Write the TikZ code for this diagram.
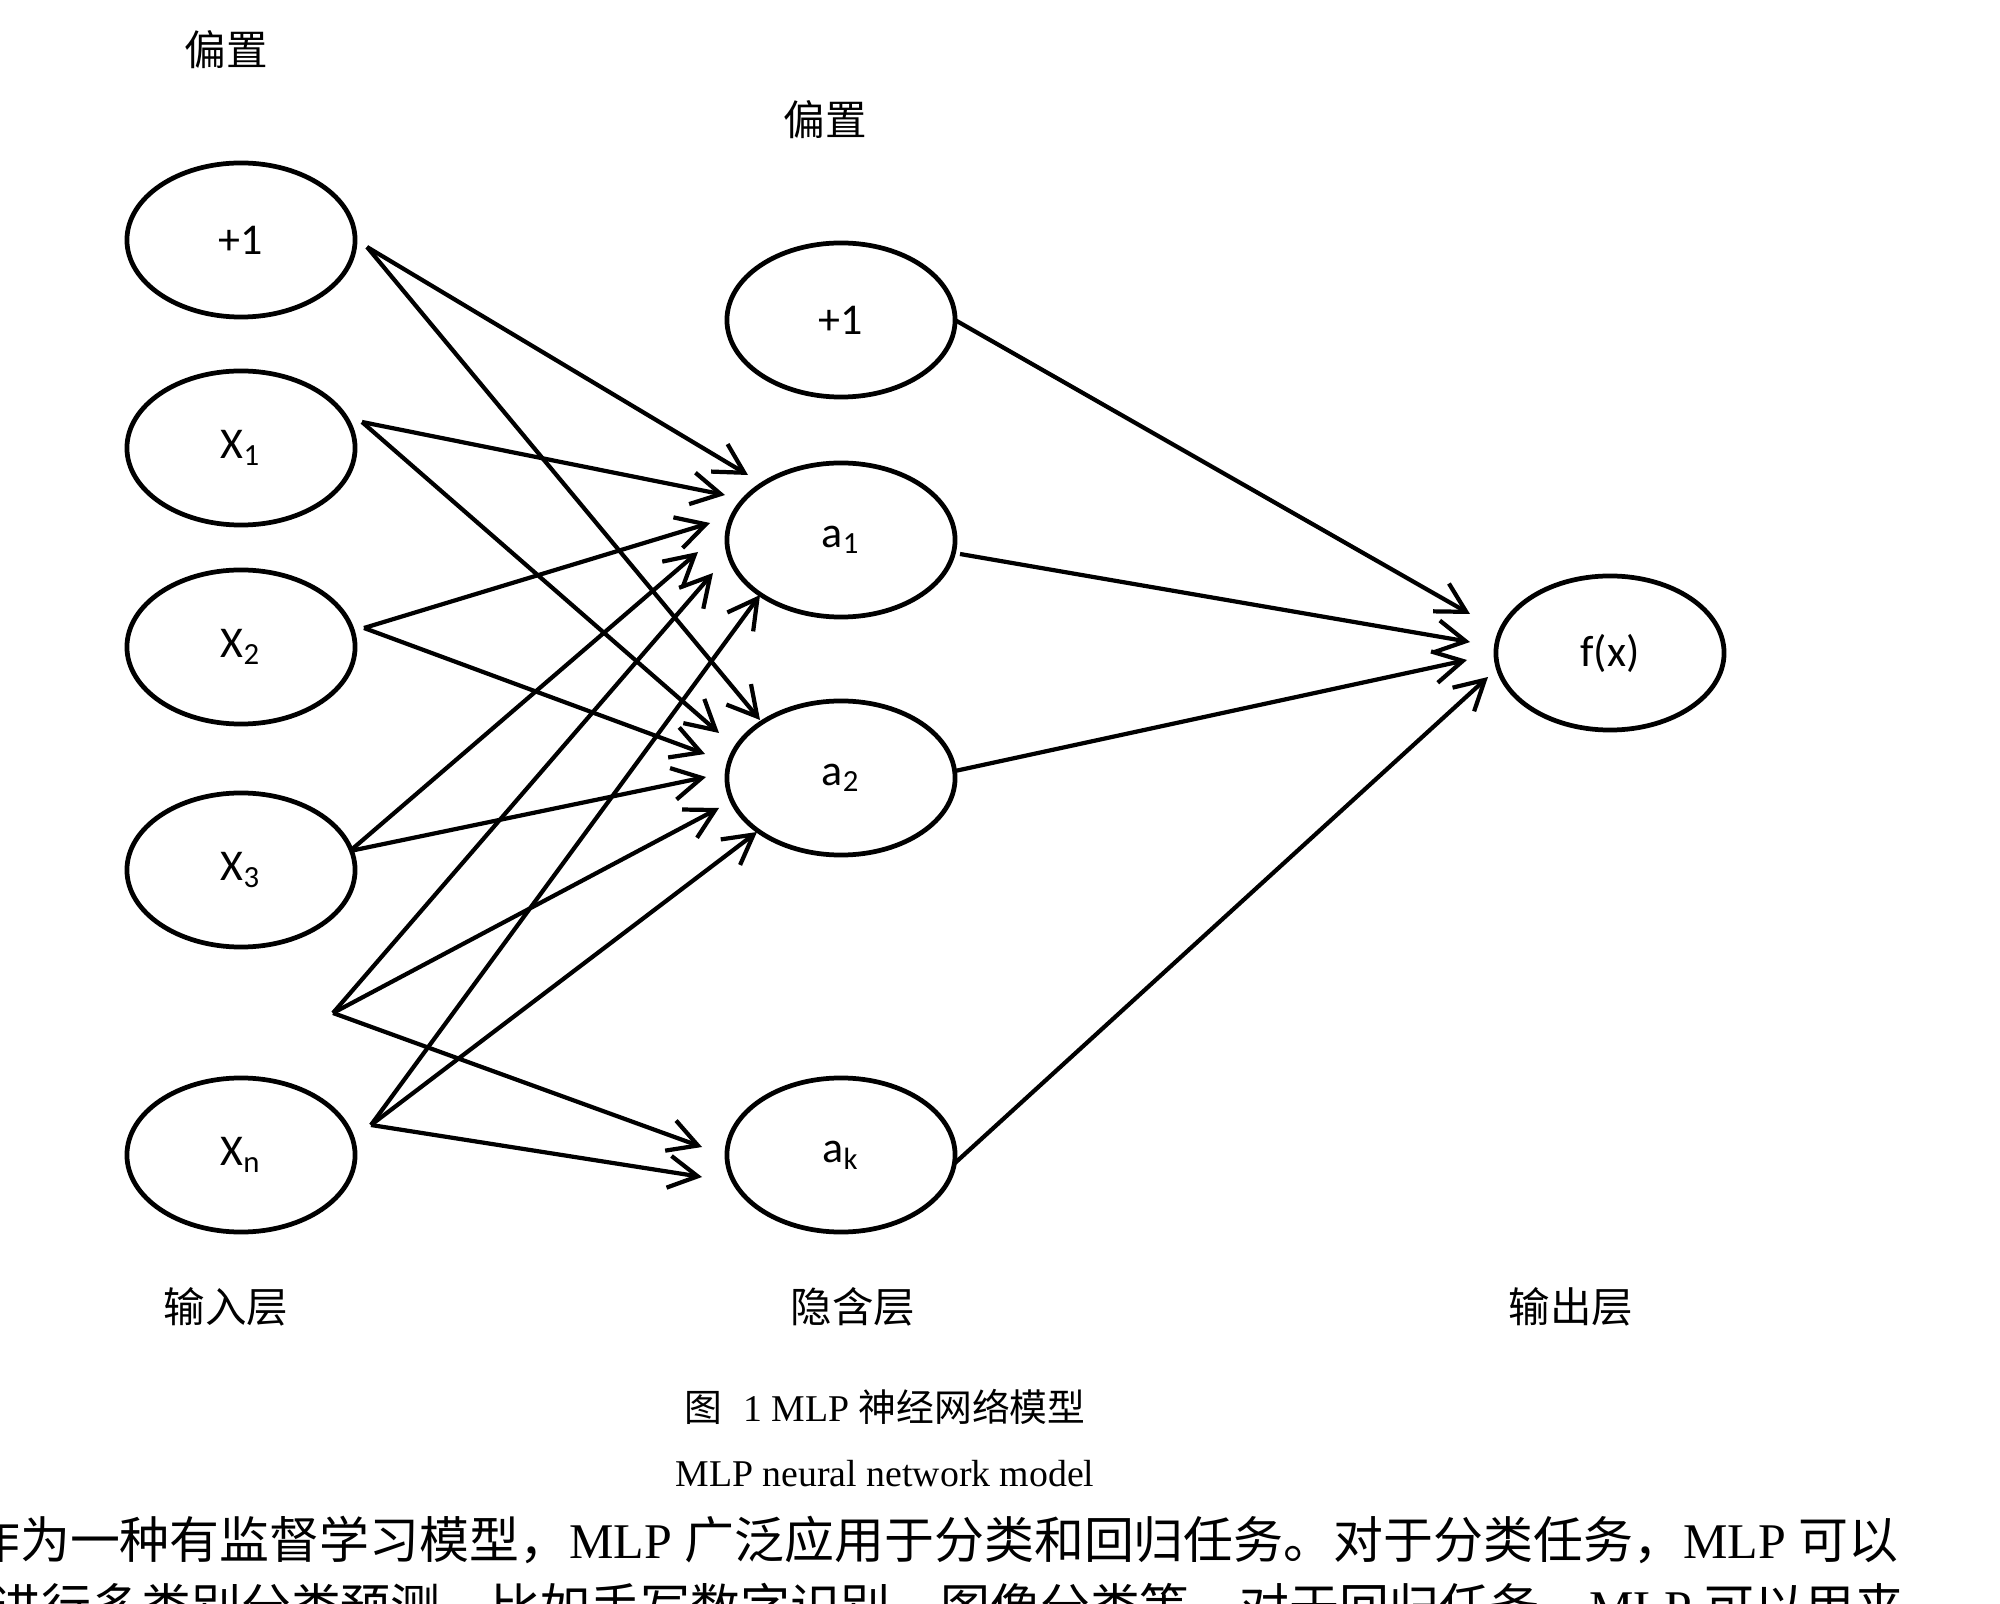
\documentclass[tikz,border=0pt]{standalone}
\usepackage{fontspec}
\setmainfont{Liberation Serif}
\newfontfamily\cjk{Noto Sans CJK SC}
\newfontfamily\nodefont{Carlito}
\usetikzlibrary{shapes.geometric}
\usetikzlibrary{arrows.meta}
\usetikzlibrary{calc}

\begin{document}
\begin{tikzpicture}[x=0.01cm, y=-0.01cm,
    neuron/.style={draw, ellipse, line width=1.35pt, minimum width=2.28cm,
        minimum height=1.54cm, inner sep=0pt,
        font=\nodefont\fontsize{12.5}{14}\selectfont},
    conn/.style={line width=1.2pt, -{Straight Barb[length=2.9mm,width=3.2mm]}},
    layer/.style={font=\cjk\fontsize{11.8}{14}\selectfont},
    bodytext/.style={anchor=east, inner sep=0pt, font=\fontsize{14.2}{17}\selectfont}]
    \useasboundingbox (0,0) rectangle (2000,1604);
    \clip (0,0) rectangle (2000,1604);

    % input layer
    \node[neuron] (b1) at (241,240) {+1};
    \node[neuron] (x1) at (241,448) {X\textsubscript{1}};
    \node[neuron] (x2) at (241,647) {X\textsubscript{2}};
    \node[neuron] (x3) at (241,870) {X\textsubscript{3}};
    \node[neuron] (xn) at (241,1155) {X\textsubscript{n}};

    % hidden layer
    \node[neuron] (hb) at (841,320) {+1};
    \node[neuron] (a1) at (841,540) {a\textsubscript{1}};
    \node[neuron] (a2) at (841,778) {a\textsubscript{2}};
    \node[neuron] (ak) at (841,1155) {a\textsubscript{k}};

    % output layer
    \node[neuron] (fx) at (1610,653) {f(x)};

    % where the lines leave the nodes
    \coordinate (b1o) at ($(b1)+(126,7)$);
    \coordinate (x1o) at ($(x1)+(121,-26)$);
    \coordinate (x2o) at ($(x2)+(123,-19)$);
    \coordinate (x3o) at ($(x3)+(109,-19)$);
    \coordinate (xd) at (333,1013);
    \coordinate (xno) at ($(xn)+(130,-30)$);
    \coordinate (hbo) at ($(hb)+(114,0)$);
    \coordinate (a1o) at ($(a1)+(119,14)$);
    \coordinate (a2o) at ($(a2)+(114,-7)$);
    \coordinate (ako) at ($(ak)+(114,8)$);

    % input -> a1
    \draw[conn] (b1o) -- ([shift={(-93,-65)}]a1.center);
    \draw[conn] (x1o) -- ([shift={(-116,-45)}]a1.center);
    \draw[conn] (x2o) -- ([shift={(-131,-17)}]a1.center);
    \draw[conn] (x3o) -- ([shift={(-143,12)}]a1.center);
    \draw[conn] (xd) -- ([shift={(-128,33)}]a1.center);
    \draw[conn] (xno) -- ([shift={(-81,55)}]a1.center);

    % input -> a2
    \draw[conn] (b1o) -- ([shift={(-81,-58)}]a2.center);
    \draw[conn] (x1o) -- ([shift={(-122,-45)}]a2.center);
    \draw[conn] (x2o) -- ([shift={(-136,-24)}]a2.center);
    \draw[conn] (x3o) -- ([shift={(-135,-1)}]a2.center);
    \draw[conn] (xd) -- ([shift={(-122,30)}]a2.center);
    \draw[conn] (xno) -- ([shift={(-84,54)}]a2.center);

    % input -> ak
    \draw[conn] (xd) -- ([shift={(-139,-8)}]ak.center);
    \draw[conn] (xno) -- ([shift={(-139,22)}]ak.center);

    % hidden -> output
    \draw[conn] (hbo) -- ([shift={(-140,-39)}]fx.center);
    \draw[conn] (a1o) -- ([shift={(-140,-11)}]fx.center);
    \draw[conn] (a2o) -- ([shift={(-143,7)}]fx.center);
    \draw[conn] (ako) -- ([shift={(-122,24)}]fx.center);

    % labels
    \node[layer] (bias1) at (226,50) {偏置};
    \node[layer] (bias2) at (825,120) {偏置};
    \node[layer] (inlab) at (226,1307) {输入层};
    \node[layer] (hidlab) at (853,1307) {隐含层};
    \node[layer] (outlab) at (1571,1307) {输出层};

    % caption
    \node[font=\fontsize{10.75}{13}\selectfont] (cap) at (885,1407)
        {{\cjk 图}\hspace{0.55em}1 MLP {\cjk 神经网络模型}};
    \node[font=\fontsize{10.75}{13}\selectfont] (capen) at (885,1474)
        {MLP neural network model};

    % running text below
    \node[bodytext] (line1) at (1899,1540)
        {{\cjk 作为一种有监督学习模型，}MLP {\cjk 广泛应用于分类和回归任务。对于分类任务，}MLP {\cjk 可以}};
    \node[bodytext] (line2) at (1905,1607)
        {{\cjk 进行多类别分类预测，比如手写数字识别、图像分类等。对于回归任务，}MLP {\cjk 可以用来}};
\end{tikzpicture}
\end{document}
